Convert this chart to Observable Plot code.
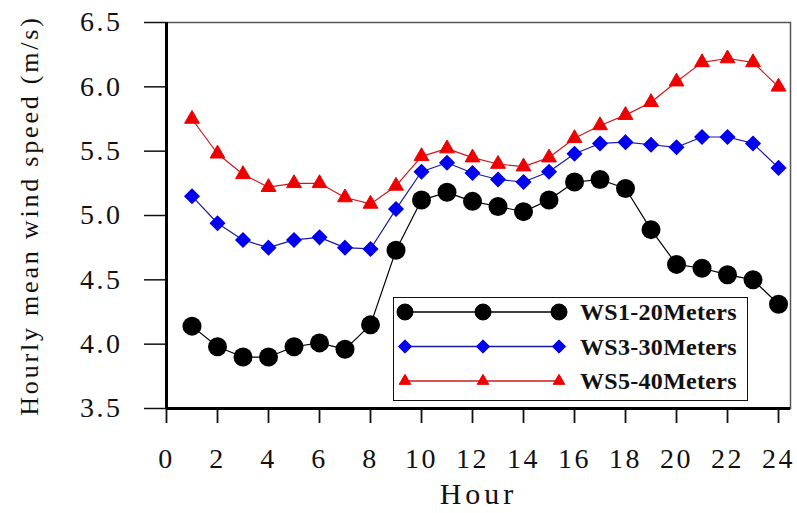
<!DOCTYPE html>
<html>
<head>
<meta charset="utf-8">
<script src="https://cdn.jsdelivr.net/npm/d3@7"></script>
<script src="https://cdn.jsdelivr.net/npm/@observablehq/plot@0.6"></script>
<style>
  html, body { margin: 0; padding: 0; background: #fff; }
  #wrap { position: relative; width: 797px; height: 513px; }
  #legend { position: absolute; left: 393px; top: 297px; width: 355px; height: 104px;
            border: 1.5px solid #111; background: #fff; box-sizing: border-box; }
  #legend svg { position: absolute; left: 0; top: 0; }
</style>
</head>
<body>
<div id="wrap"><div id="legend"></div></div>
<script>
const hours = [1,2,3,4,5,6,7,8,9,10,11,12,13,14,15,16,17,18,19,20,21,22,23,24];
const ws1 = [4.14,3.98,3.90,3.90,3.98,4.01,3.96,4.15,4.73,5.12,5.18,5.11,5.07,5.03,5.12,5.26,5.28,5.21,4.89,4.62,4.59,4.54,4.50,4.31];
const ws3 = [5.15,4.94,4.81,4.75,4.81,4.83,4.75,4.74,5.05,5.34,5.41,5.33,5.28,5.26,5.34,5.48,5.56,5.57,5.55,5.53,5.61,5.61,5.56,5.37];
const ws5 = [5.75,5.48,5.32,5.22,5.25,5.25,5.14,5.09,5.23,5.46,5.52,5.45,5.40,5.38,5.45,5.60,5.70,5.78,5.88,6.04,6.19,6.22,6.19,6.00];
const seriesNames = ["WS1-20Meters", "WS3-30Meters", "WS5-40Meters"];
const xTicks = [0,2,4,6,8,10,12,14,16,18,20,22,24];
const yTicks = [3.5,4.0,4.5,5.0,5.5,6.0,6.5];
const xTitle = "Hour";
const yTitle = "Hourly mean wind speed (m/s)";

const rows = (vals) => hours.map((h, i) => ({hour: h, value: vals[i]}));
const d1 = rows(ws1), d3r = rows(ws3), d5 = rows(ws5);

const chart = Plot.plot({
  width: 797, height: 513,
  marginLeft: 166, marginRight: 7, marginTop: 22, marginBottom: 105,
  x: {domain: [0, 24.47]},
  y: {domain: [3.5, 6.5]},
  style: {fontFamily: "Liberation Serif", fontSize: "28px", color: "#111", background: "#fff", overflow: "visible"},
  marks: [
    Plot.frame({stroke: "#555", strokeWidth: 1.5}),
    Plot.axisX({ticks: xTicks, tickSize: 15, tickPadding: 25, tickFormat: d => d, label: null, strokeWidth: 1.8}),
    Plot.axisY({ticks: yTicks, tickSize: 22, tickPadding: 22, tickFormat: ".1f", label: null, strokeWidth: 1.5}),
    Plot.ruleX([0], {stroke: "#000", strokeWidth: 3}),
    Plot.ruleY([3.5], {stroke: "#000", strokeWidth: 3}),
    Plot.line(d5, {x: "hour", y: "value", stroke: "#d01818", strokeWidth: 1.2}),
    Plot.line(d3r, {x: "hour", y: "value", stroke: "#1a1aa0", strokeWidth: 1.2}),
    Plot.line(d1, {x: "hour", y: "value", stroke: "#000", strokeWidth: 1.2}),
    Plot.dot(d5, {x: "hour", y: "value", symbol: "triangle", r: 5.5, fill: "#ee0000", stroke: "#ee0000", strokeWidth: 1}),
    Plot.dot(d3r, {x: "hour", y: "value", symbol: "diamond2", r: 6.3, fill: "#0000ee", stroke: "#0000ee", strokeWidth: 1.5}),
    Plot.dot(d1, {x: "hour", y: "value", symbol: "circle", r: 9.5, fill: "#000"}),
    Plot.text([xTitle], {frameAnchor: "bottom", dy: 86, fontSize: 30, lineAnchor: "middle", textAnchor: "middle", fill: "#111"}),
    Plot.text([yTitle], {frameAnchor: "left", dx: -137, rotate: -90, fontSize: 26, lineAnchor: "middle", textAnchor: "middle", fill: "#111"})
  ]
});
d3.select(chart).selectAll("text").each(function() {
  const t = this.textContent;
  if (t === xTitle) this.setAttribute("letter-spacing", "4px");
  else if (t === yTitle) this.setAttribute("letter-spacing", "2.8px");
  else this.setAttribute("letter-spacing", "2.5px");
});
document.getElementById("wrap").prepend(chart);

// Legend
const leg = d3.select("#legend").append("svg").attr("width", 355).attr("height", 104);
const legendRows = [
  {name: seriesNames[0], color: "#000", line: "#000", sym: d3.symbolCircle, size: Math.PI * 8 * 8},
  {name: seriesNames[1], color: "#0000ee", line: "#1a1aa0", sym: d3.symbolDiamond2, size: Math.PI * 6 * 6},
  {name: seriesNames[2], color: "#ee0000", line: "#d01818", sym: d3.symbolTriangle, size: Math.PI * 4.3 * 4.3}
];
legendRows.forEach((r, i) => {
  const y = 14 + i * 34.5;
  leg.append("line").attr("x1", 11).attr("x2", 165).attr("y1", y).attr("y2", y)
     .attr("stroke", r.line).attr("stroke-width", 1.3);
  [11, 89, 165].forEach(x => {
    leg.append("path").attr("d", d3.symbol(r.sym, r.size)()).attr("transform", `translate(${x},${y})`)
       .attr("fill", r.color).attr("stroke", r.color).attr("stroke-width", 1);
  });
  leg.append("text").attr("x", 186).attr("y", y).attr("dy", "0.35em")
     .attr("font-family", "Liberation Serif").attr("font-weight", "bold").attr("font-size", 24)
     .attr("letter-spacing", "0.3px").attr("fill", "#111").text(r.name);
});
</script>
</body>
</html>
